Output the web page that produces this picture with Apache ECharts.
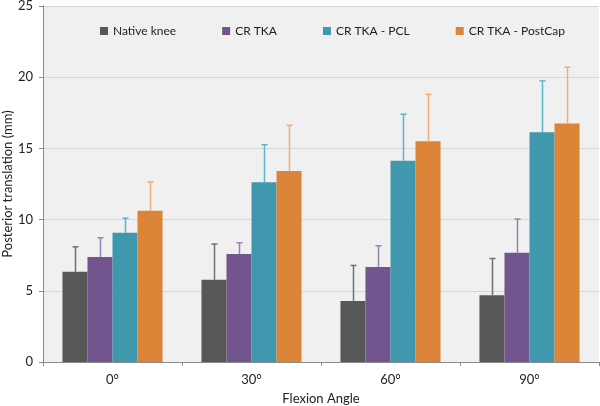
<!DOCTYPE html>
<html><head><meta charset="utf-8">
<script src="https://cdn.jsdelivr.net/npm/echarts@6/dist/echarts.min.js"></script>
<style>html,body{margin:0;padding:0;background:#fff}#c{width:600px;height:406px}</style>
</head><body><div id="c"></div>
<script>
const categories = ['0°', '30°', '60°', '90°'];
const seriesNames = ['Native knee', 'CR TKA', 'CR TKA - PCL', 'CR TKA - PostCap'];
const nativeKnee = [6.33, 5.77, 4.29, 4.69];
const crTka = [7.38, 7.59, 6.68, 7.67];
const crTkaPcl = [9.07, 12.62, 14.14, 16.13];
const crTkaPostCap = [10.62, 13.41, 15.50, 16.74];
const nativeKneeErrTop = [8.09, 8.28, 6.78, 7.27];
const crTkaErrTop = [8.72, 8.37, 8.16, 10.04];
const crTkaPclErrTop = [10.10, 15.26, 17.40, 19.74];
const crTkaPostCapErrTop = [12.64, 16.62, 18.80, 20.70];
const yTicks = [0, 5, 10, 15, 20, 25];
const yTitle = 'Posterior translation (mm)';
const xTitle = 'Flexion Angle';

const values = [nativeKnee, crTka, crTkaPcl, crTkaPostCap];
const errTops = [nativeKneeErrTop, crTkaErrTop, crTkaPclErrTop, crTkaPostCapErrTop];
const colors = ['#575757', '#72558f', '#4098af', '#dc8438'];
const errColors = ['#707070', '#9882b3', '#5ab6cd', '#f2ac78'];
const gapRatio = 0.28;
const FONT = 'Lato';

const chart = echarts.init(document.getElementById('c'), null, {renderer: 'canvas'});
const series = [];
values.forEach((v, i) => {
  series.push({
    name: seriesNames[i], type: 'bar', data: v,
    barGap: '0%', barCategoryGap: (gapRatio * 100) + '%',
    itemStyle: {color: colors[i]}, z: 2
  });
});
values.forEach((v, i) => {
  series.push({
    type: 'custom', name: seriesNames[i] + ' err', z: 3,
    data: v.map((val, k) => [k, val, errTops[i][k]]),
    renderItem: function (params, api) {
      const band = api.size([1, 0])[0];
      const bw = band * (1 - gapRatio) / 4;
      const c0 = api.coord([api.value(0), api.value(1)]);
      const c1 = api.coord([api.value(0), api.value(2)]);
      const x = Math.round(c0[0] + (i - 1.5) * bw) + 0.5;
      const st = {stroke: errColors[i], lineWidth: 1.5};
      return {type: 'group', children: [
        {type: 'line', shape: {x1: x, y1: c0[1], x2: x, y2: c1[1]}, style: st},
        {type: 'line', shape: {x1: x - 3, y1: c1[1], x2: x + 3, y2: c1[1]}, style: st}
      ]};
    },
    encode: {x: 0, y: [1, 2]}, silent: true, tooltip: {show: false}
  });
});

chart.setOption({
  animation: false,
  backgroundColor: '#ffffff',
  textStyle: {fontFamily: FONT},
  legend: {
    data: seriesNames, top: 25, left: 100, padding: 0, itemWidth: 8, itemHeight: 8, itemGap: 46,
    icon: 'rect', textStyle: {fontSize: 12, color: '#222', fontFamily: FONT}
  },
  grid: {left: 43, right: 1, top: 6, bottom: 44, show: true, backgroundColor: '#f0f0f0', borderWidth: 0,
         containLabel: false, outerBoundsMode: 'none'},
  graphic: [{
    type: 'text', x: 8, y: 184, rotation: Math.PI / 2, silent: true,
    style: {text: yTitle, fill: '#222', font: '13px ' + FONT, textAlign: 'center', textVerticalAlign: 'middle'}
  }],
  xAxis: {
    type: 'category', data: categories,
    name: xTitle, nameLocation: 'middle', nameGap: 30,
    nameTextStyle: {fontSize: 13, color: '#222', fontFamily: FONT},
    axisLine: {lineStyle: {color: '#8a8a8a', width: 1}},
    axisTick: {show: true, length: 4, lineStyle: {color: '#8a8a8a'}},
    axisLabel: {fontSize: 13, color: '#222', margin: 11, fontFamily: FONT}
  },
  yAxis: {
    type: 'value', min: yTicks[0], max: yTicks[yTicks.length - 1], interval: 5,
    axisLine: {show: true, lineStyle: {color: '#8a8a8a', width: 1}},
    axisTick: {show: true, length: 4, lineStyle: {color: '#8a8a8a'}},
    axisLabel: {fontSize: 13, color: '#222', margin: 10, fontFamily: FONT},
    splitLine: {show: true, lineStyle: {color: '#d6d6d6', width: 1}}
  },
  series: series
});
</script></body></html>
